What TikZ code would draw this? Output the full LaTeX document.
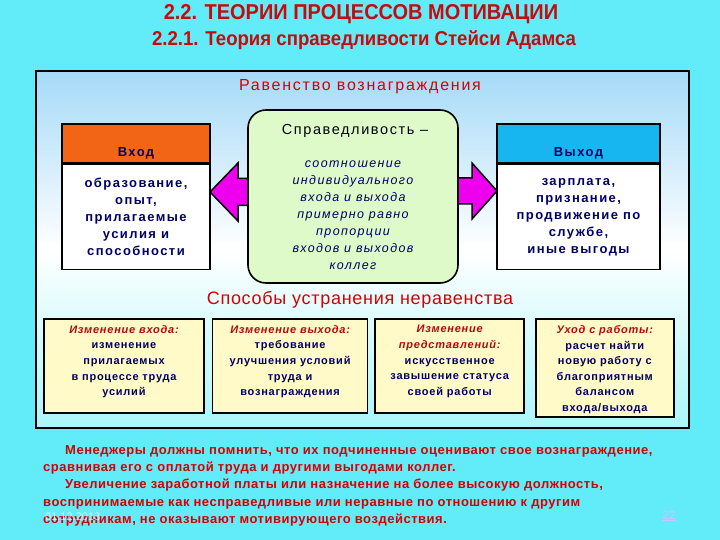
\documentclass[tikz,border=0pt]{standalone}
\usepackage{fontspec}
\setmainfont{Liberation Sans}
\newfontfamily\titlesf[FakeStretch=0.93]{Liberation Sans}
\newfontfamily\widesf[LetterSpace=7]{Liberation Sans}
\newfontfamily\spacedsf[LetterSpace=11]{Liberation Sans}
\newfontfamily\notesf[LetterSpace=4]{Liberation Sans}
\usetikzlibrary{positioning}
\definecolor{slidebg}{RGB}{98,236,250}
\definecolor{frmtop}{RGB}{165,218,248}
\definecolor{frmbot}{RGB}{170,246,250}
\definecolor{titlered}{RGB}{196,12,12}
\definecolor{lblred}{RGB}{215,0,0}
\definecolor{navy}{RGB}{0,0,100}
\definecolor{inorange}{RGB}{242,100,22}
\definecolor{outcyan}{RGB}{24,182,240}
\definecolor{justgreen}{RGB}{222,250,200}
\definecolor{waysyellow}{RGB}{255,250,200}
\definecolor{arrmagenta}{RGB}{238,0,238}
\tikzset{
  ttl/.style   ={font=\titlesf\bfseries\fontsize{21.5}{24}\selectfont, text=titlered},
  subttl/.style={font=\titlesf\bfseries\fontsize{20}{22}\selectfont, text=titlered},
  redlbl/.style={font=\spacedsf\fontsize{16}{18}\selectfont, text=lblred},
  hdr/.style   ={draw, line width=1.3pt, minimum width=#1, minimum height=39pt, inner sep=0pt,
                 text height=30pt, text depth=3pt,
                 font=\spacedsf\bfseries\fontsize{13}{15}\selectfont, text=navy},
  body/.style  ={draw, line width=1.3pt, fill=white, minimum width=#1, minimum height=105pt, inner sep=0pt,
                 align=center, font=\spacedsf\bfseries\fontsize{13}{17}\selectfont, text=navy},
  wbox/.style  ={draw, line width=1.6pt, fill=waysyellow, minimum width=#1, minimum height=94pt, inner sep=0pt},
  wtext/.style ={align=center, inner sep=0pt, font=\widesf\bfseries\fontsize{11}{15.6}\selectfont, text=navy},
  blockarr/.style={fill=arrmagenta, draw=black, line width=1.5pt, line join=miter},
}
\newcommand{\wred}[1]{{\color{titlered!90!black}\itshape #1}}

\begin{document}
\begin{tikzpicture}[x=1pt, y=-1pt]
  \useasboundingbox (0,0) rectangle (720,540);
  \fill[slidebg] (0,0) rectangle (720,540);
  \node[draw, line width=2pt, top color=frmtop, bottom color=frmbot, middle color=white,
        minimum width=653pt, minimum height=357pt] (frm) at (362.5,249.5) {};

  \node[ttl] (t1) at (361,14) {2.2. ТЕОРИИ ПРОЦЕССОВ МОТИВАЦИИ};
  \node[subttl] (t2) at (364,40) {2.2.1. Теория справедливости Стейси Адамса};
  \node[redlbl] (eq) at (360,87) {Равенство вознаграждения};

  % input / output boxes
  \node[hdr=148pt, fill=inorange] (inh) at (136,143.5) {Вход};
  \node[body=148pt, below=0pt of inh] (inb) {образование,\\опыт,\\прилагаемые\\усилия и\\способности};
  \node[hdr=163pt, fill=outcyan] (outh) at (578.5,143.5) {Выход};
  \node[body=163pt, below=0pt of outh] (outb) {зарплата,\\признание,\\продвижение по\\службе,\\иные выгоды};

  % block arrows
  \coordinate (ltip) at (210,192);
  \coordinate (rtip) at (497,191);
  \draw[blockarr] (ltip) -- ++(28,-29) -- ++(0,15.5) -- ++(22,0) -- ++(0,27) -- ++(-22,0) -- ++(0,15.5) -- cycle;
  \draw[blockarr] (rtip) -- ++(-25,-28) -- ++(0,15) -- ++(-22,0) -- ++(0,26) -- ++(22,0) -- ++(0,15) -- cycle;

  % equity box
  \node[draw, line width=1.6pt, fill=justgreen, rounded corners=18pt,
        minimum width=210pt, minimum height=173pt] (just) at (353,196.5) {};
  \node[font=\spacedsf\fontsize{14.5}{16}\selectfont, text=black!85!navy] (justt) at (355,131) {Справедливость –};
  \node[align=center, font=\spacedsf\itshape\fontsize{12.5}{16.9}\selectfont, text=navy] (justb) at (353,215)
    {соотношение\\индивидуального\\входа и выхода\\примерно равно\\пропорции\\входов и выходов\\коллег};

  % ways to remove inequity
  \node[font=\notesf\fontsize{18}{20}\selectfont, text=lblred] (ways) at (360,300) {Способы устранения неравенства};
  \node[wbox=160pt] (w1) at (124,366) {};
  \node[wbox=155pt, right=7pt of w1] (w2) {};
  \node[wbox=149pt, right=6pt of w2] (w3) {};
  \node[wbox=138pt, minimum height=98pt, right=10pt of w3, yshift=-2pt] (w4) {};
  \node[wtext, below=7pt of w1.north] (w1t) {\wred{Изменение входа:}\\изменение\\прилагаемых\\в процессе труда\\усилий};
  \node[wtext, below=7pt of w2.north] (w2t) {\wred{Изменение выхода:}\\требование\\улучшения условий\\труда и\\вознаграждения};
  \node[wtext, below=7pt of w3.north] (w3t) {\wred{Изменение}\\\wred{представлений:}\\искусственное\\завышение статуса\\своей работы};
  \node[wtext, below=7pt of w4.north] (w4t) {\wred{Уход с работы:}\\расчет найти\\новую работу с\\благоприятным\\балансом\\входа/выхода};

  % closing note
  \node[anchor=north west, align=left, inner sep=0pt, text=lblred,
        font=\notesf\bfseries\fontsize{13}{17.3}\selectfont] (note) at (43,445)
    {\hspace*{22pt}Менеджеры должны помнить, что их подчиненные оценивают свое вознаграждение,\\
     сравнивая его с оплатой труда и другими выгодами коллег.\\
     \hspace*{22pt}Увеличение заработной платы или назначение на более высокую должность,\\
     воспринимаемые как несправедливые или неравные по отношению к другим\\
     сотрудникам, не оказывают мотивирующего воздействия.};
  \node[anchor=west, inner sep=0pt, text=white, opacity=0.7, font=\fontsize{11}{13}\selectfont] (date) at (45,517) {01.12.2013};
  \node[inner sep=0pt, text=blue!22!white, font=\fontsize{12}{14}\selectfont] (pg) at (669,516) {\underline{22}};
\end{tikzpicture}
\end{document}
